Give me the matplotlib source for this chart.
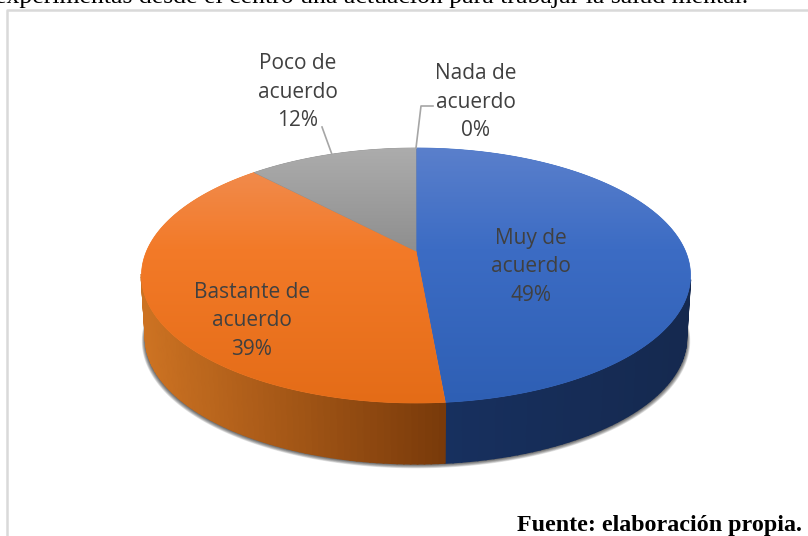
import numpy as np
import matplotlib
matplotlib.use("Agg")
import matplotlib.pyplot as plt
from matplotlib.colors import to_rgb, LinearSegmentedColormap
from matplotlib.patches import Polygon

# datos
categorias = ["Muy de\nacuerdo", "Bastante de\nacuerdo", "Poco de\nacuerdo", "Nada de\nacuerdo"]
valores = [48.6, 39.4, 12.0, 0.0]
etiquetas_pct = [f"{round(v)}%" for v in valores]

# estilos
degradados = [
    [(0, "#5B80CC"), (0.4, "#3C6CC4"), (1, "#2E5FB4")],
    [(0, "#F09058"), (0.4, "#F37A28"), (1, "#E46C17")],
    [(0, "#ADADAD"), (0.4, "#8F8F8F"), (1, "#8F8F8F")],
]
lado_izq = ["#17305F", "#CC7222", "#808080"]
lado_der = ["#15294F", "#793A0A", "#808080"]
pos_etiquetas = [(531, 267), (252, 321), (298, 92), (476, 102)]
texto = "#404040"

# perspectiva del disco
cx, cy = 416.0, 251.0
k, a, b = 0.192, 122.8, 269.4
grosor, esc_base = 63.0, 0.985


def punto(theta, dy=0.0, esc=1.0):
    # theta en grados, desde arriba y en sentido horario
    t = np.radians(theta)
    u, v = np.sin(t), np.cos(t)
    d = 1 + k * v
    return cx + esc * b * u / d, cy + dy - esc * a * v / d


fig = plt.figure(figsize=(8.08, 5.36), dpi=100)
ax = fig.add_axes([0, 0, 1, 1])
ax.set_xlim(0, 808)
ax.set_ylim(536, 0)
ax.axis("off")

# marco del grafico
ax.plot([6.5, 6.5, 808], [536, 9.5, 9.5], color="#D9D9D9", lw=1.8, zorder=1)

# sombra difusa bajo el disco
todo = np.linspace(0, 360, 361)
for i in range(8):
    sx, sy = punto(todo, grosor + 2.5 - i * 0.3, esc_base + 0.014 - i * 0.0018)
    ax.fill(sx, sy, color="black", alpha=0.11, lw=0, zorder=2)

# cantos y caras, a partir de los valores
limites = np.concatenate([[0], np.cumsum(valores) / sum(valores) * 360])
for i in range(3):
    ini, fin = limites[i], limites[i + 1]
    th = np.linspace(ini, fin, 120)
    x1, y1 = punto(th)
    x2, y2 = punto(th, grosor, esc_base)
    c0, c1 = np.array(to_rgb(lado_izq[i])), np.array(to_rgb(lado_der[i]))
    xs_min, xs_max = (447, 690) if i == 0 else (146, 447)
    for j in range(len(th) - 1):
        # solo la parte frontal del canto
        if np.cos(np.radians(th[j])) > -0.2:
            continue
        f = np.clip((x1[j] - xs_min) / (xs_max - xs_min), 0, 1)
        col = c0 + (c1 - c0) * f
        ax.add_patch(Polygon([(x1[j], y1[j]), (x1[j + 1], y1[j + 1]),
                              (x2[j + 1], y2[j + 1]), (x2[j], y2[j])],
                             facecolor=col, edgecolor=col, lw=1.2, zorder=3))

for i in range(3):
    ini, fin = limites[i], limites[i + 1]
    th = np.linspace(ini, fin, 240)
    x1, y1 = punto(th)
    borde = np.column_stack([np.r_[cx, x1], np.r_[cy, y1]])
    cuna = Polygon(borde, transform=ax.transData, facecolor=degradados[i][1][1],
                   edgecolor=degradados[i][1][1], lw=0.5, zorder=4)
    ax.add_patch(cuna)
    cmap = LinearSegmentedColormap.from_list("g", degradados[i])
    sup = np.linspace(0, 1, 256).reshape(-1, 1)
    im = ax.imshow(sup, extent=(120, 700, 405, 145), cmap=cmap, aspect="auto", zorder=4,
                   interpolation="bilinear")
    im.set_clip_path(cuna)
ax.set_xlim(0, 808)
ax.set_ylim(536, 0)

# lineas guia
px, py = punto(limites[2] + valores[2] / 100 * 180)
ax.plot([px, 322], [py, 127], color="#A6A6A6", lw=1.2, zorder=5)
px, py = punto(limites[3])
ax.plot([px, 421, 433], [py, 106, 106], color="#A6A6A6", lw=1.2, zorder=5)

# etiquetas
for cat, pct, (lx, ly) in zip(categorias, etiquetas_pct, pos_etiquetas):
    ax.text(lx, ly, f"{cat}\n{pct}", ha="center", va="center", family="Open Sans",
            fontsize=15, color=texto, linespacing=1.46, zorder=6)

# textos del documento
ax.text(748, 3.5, "experimentas desde el centro una actuación para trabajar la salud mental.",
        ha="right", va="baseline", family="Liberation Serif", fontsize=18.5, color="black",
        clip_on=True, zorder=6)
ax.text(802, 531, "Fuente: elaboración propia.", ha="right", va="baseline",
        family="Liberation Serif", fontsize=17.3, weight="bold", color="black", zorder=6)

fig.savefig("out.png", dpi=100)
